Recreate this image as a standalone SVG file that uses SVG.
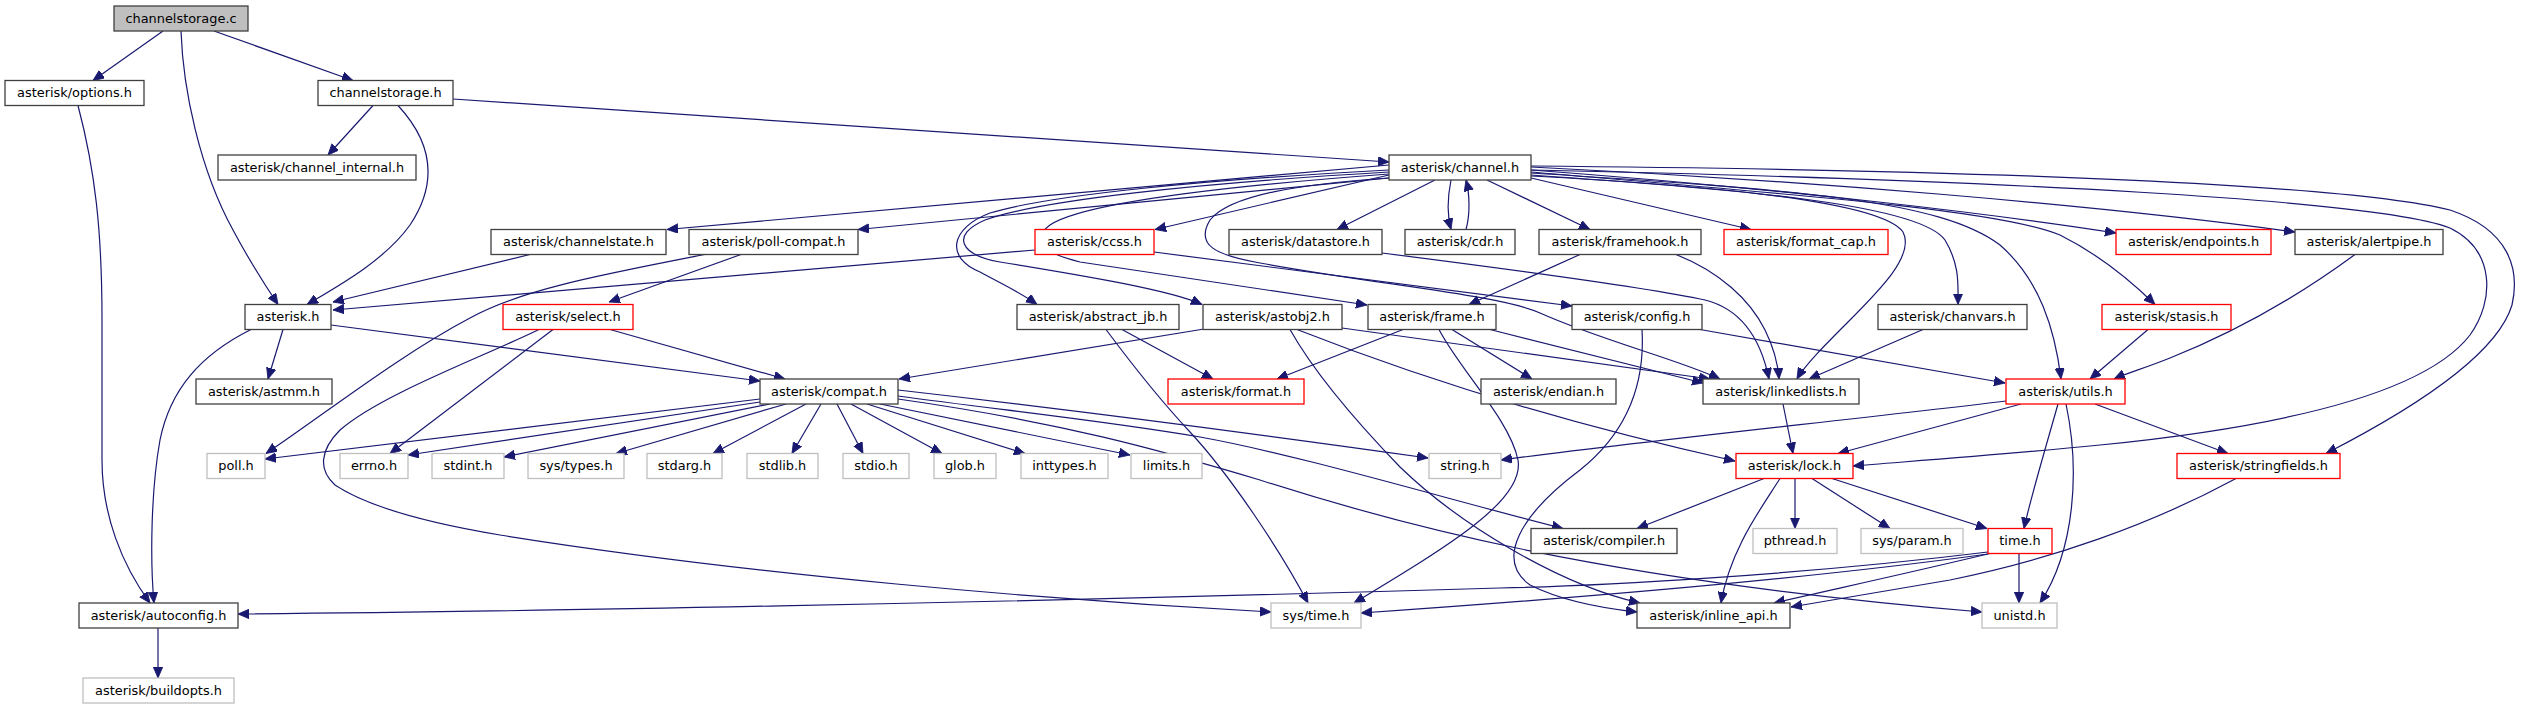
<svg xmlns="http://www.w3.org/2000/svg" width="2521" height="709" viewBox="0 0 2521 709">
<style>
.n rect{fill:#ffffff;stroke:#404040;stroke-width:1.3}
.n.m rect{fill:#bfbfbf}
.n.r rect{stroke:#ff0000}
.n.g rect{stroke:#bfbfbf}
.n text{font-family:"DejaVu Sans",sans-serif;font-size:12.9px;text-anchor:middle;fill:#000000}
#edges path{fill:none;stroke:#191970;stroke-width:1.2;marker-end:url(#a)}
</style>
<defs>
<marker id="a" markerWidth="11" markerHeight="10" refX="11" refY="4.75" orient="auto" markerUnits="userSpaceOnUse"><path d="M0,0 L11,4.75 L0,9.5 z" fill="#191970" stroke="#191970" stroke-width="0.8"/></marker>
</defs>
<rect x="0" y="0" width="2521" height="709" fill="#ffffff"/>
<g id="edges">
<path d="M163,31 L93,80.5"/>
<path d="M181,31 C183,90 200,170 233,230 C250,262 265,285 278,304.5"/>
<path d="M214,31 L353,80.5"/>
<path d="M78,105.5 C95,170 102,230 102,320 L102,460 C102,515 122,565 150,603"/>
<path d="M251,329.5 C200,355 170,390 160,440 C151,490 150,560 154,603"/>
<path d="M373,105.5 L328,155"/>
<path d="M398,105.5 C430,140 440,180 410,225 C385,260 340,285 307,304.5"/>
<path d="M453,99 L1389,162"/>
<path d="M283,329.5 L268,379"/>
<path d="M331,325 L760,381"/>
<path d="M1389,165 L667,229.5"/>
<path d="M1389,178 L858,229.5"/>
<path d="M1035,250 L333,310"/>
<path d="M530,254.5 L333,302"/>
<path d="M705,254.5 C600,275 520,290 470,318 C400,355 330,410 266,453.5"/>
<path d="M741,254.5 L609,302"/>
<path d="M610,329.5 L785,379"/>
<path d="M553,329.5 L390,453.5"/>
<path d="M539,329.5 C480,358 380,395 340,430 C320,450 318,470 335,485 C380,515 470,530 500,535 C750,575 1050,600 1271,612"/>
<path d="M760,399 L265,459"/>
<path d="M760,402 L408,455"/>
<path d="M770,404 L504,457"/>
<path d="M786,404 L616,453.5"/>
<path d="M806,404 L713,453.5"/>
<path d="M821,404 L792,453.5"/>
<path d="M837,404 L863,453.5"/>
<path d="M851,404 L942,453.5"/>
<path d="M867,404 L1025,453.5"/>
<path d="M880,404 L1130,455"/>
<path d="M898,390 C1100,413 1300,440 1428,458"/>
<path d="M898,396 C1000,410 1100,420 1200,437 C1300,455 1450,500 1563,528.5"/>
<path d="M898,399 C1060,422 1160,450 1260,480 C1400,525 1600,580 1982,612"/>
<path d="M1389,175 L1155,229.5"/>
<path d="M1435,180 L1337,229.5"/>
<path d="M1451,180 C1447,200 1447,215 1451,229.5"/>
<path d="M1466,229.5 C1470,215 1470,195 1466,180"/>
<path d="M1487,180 L1590,229.5"/>
<path d="M1531,178 L1751,229.5"/>
<path d="M1531,170 C1800,190 2000,215 2116,233"/>
<path d="M1531,167 C1800,180 2100,205 2295,232"/>
<path d="M1531,172 C1800,195 2000,210 2060,235 C2100,255 2130,280 2155,304.5"/>
<path d="M1531,173 C1800,190 1940,200 2000,245 C2040,280 2055,330 2061,379"/>
<path d="M1531,175 C1750,190 1920,205 1945,240 C1960,265 1958,285 1958,304.5"/>
<path d="M1531,176 C1700,185 1880,200 1903,232 C1915,255 1880,290 1848,322 C1825,345 1805,365 1797,379"/>
<path d="M1531,170 C2000,180 2380,200 2450,228 C2495,250 2495,300 2470,335 C2420,400 2250,430 2100,445 C2000,455 1900,462 1853,466"/>
<path d="M1531,166 C2000,170 2350,185 2450,210 C2510,230 2520,270 2512,305 C2500,345 2440,395 2326,453.5"/>
<path d="M1389,178 C1300,184 1230,195 1210,220 C1195,245 1215,255 1260,263 C1380,285 1500,295 1540,313 C1600,340 1680,360 1720,379"/>
<path d="M1389,170 C1200,180 1050,195 990,213 C950,228 945,258 980,272 C1000,283 1020,292 1037,304.5"/>
<path d="M1389,172 C1200,183 1040,200 985,220 C950,235 960,255 1000,262 C1080,275 1170,290 1202,304.5"/>
<path d="M1389,174 C1200,188 1080,205 1050,225 C1030,240 1040,252 1080,262 C1200,280 1300,295 1367,305"/>
<path d="M1154,252 L1572,306"/>
<path d="M1382,253 C1500,268 1650,288 1705,300 C1745,310 1762,345 1769,379"/>
<path d="M1580,254.5 L1469,304.5"/>
<path d="M1676,254.5 C1720,272 1750,300 1765,330 C1775,350 1778,365 1779,379"/>
<path d="M1122,329.5 L1213,379"/>
<path d="M1106,329.5 C1125,355 1160,400 1190,432 C1230,475 1280,550 1308,603"/>
<path d="M1204,329 L899,379"/>
<path d="M1342,328 L1710,379"/>
<path d="M1297,329.5 C1400,370 1550,420 1735,461"/>
<path d="M1290,329.5 C1310,365 1345,410 1400,467 C1460,525 1560,585 1640,603"/>
<path d="M1642,329.5 C1645,380 1630,430 1580,470 C1520,515 1495,560 1530,585 C1560,600 1600,608 1637,612"/>
<path d="M1700,329.5 L2005,383"/>
<path d="M1403,329.5 L1277,379"/>
<path d="M1452,329.5 L1532,379"/>
<path d="M1490,329.5 L1703,383"/>
<path d="M1439,329.5 C1460,370 1510,420 1518,460 C1525,500 1450,545 1354,603"/>
<path d="M1923,329.5 L1809,379"/>
<path d="M2148,329.5 L2090,379"/>
<path d="M2355,254.5 C2300,295 2240,330 2170,358 C2145,368 2125,374 2114,379"/>
<path d="M2006,401 C1850,420 1650,440 1501,460"/>
<path d="M2021,404 L1838,453.5"/>
<path d="M2058,404 C2045,450 2030,500 2024,528.5"/>
<path d="M2066,404 C2080,470 2075,550 2040,603"/>
<path d="M2095,404 L2228,453.5"/>
<path d="M1783,404 L1793,453.5"/>
<path d="M1764,478.5 L1637,528.5"/>
<path d="M1780,478.5 C1760,510 1730,550 1721,603"/>
<path d="M1795,478.5 L1795,528.5"/>
<path d="M1812,478.5 L1890,528.5"/>
<path d="M1832,478.5 L1987,528.5"/>
<path d="M1988,552 C1800,575 1600,586 1500,588 C1000,603 500,612 238,614"/>
<path d="M1988,554 C1800,580 1550,600 1361,613"/>
<path d="M1990,553.5 C1900,575 1830,590 1774,603"/>
<path d="M2019,553.5 L2019,603"/>
<path d="M2236,478.5 C2150,525 2050,560 1950,580 C1880,592 1830,600 1791,607"/>
<path d="M158,628 L158,678"/>
</g>
<g id="n1" class="n m"><rect x="114" y="6" width="134" height="25"/><text x="181" y="22.8">channelstorage.c</text></g>
<g id="n2" class="n"><rect x="5" y="80.5" width="139" height="25"/><text x="74.5" y="97.3">asterisk/options.h</text></g>
<g id="n3" class="n"><rect x="318" y="80.5" width="135" height="25"/><text x="385.5" y="97.3">channelstorage.h</text></g>
<g id="n4" class="n"><rect x="218" y="155" width="198" height="25"/><text x="317" y="171.8">asterisk/channel_internal.h</text></g>
<g id="n5" class="n"><rect x="1389" y="155" width="142" height="25"/><text x="1460" y="171.8">asterisk/channel.h</text></g>
<g id="n6" class="n"><rect x="491" y="229.5" width="175" height="25"/><text x="578.5" y="246.3">asterisk/channelstate.h</text></g>
<g id="n7" class="n"><rect x="689" y="229.5" width="169" height="25"/><text x="773.5" y="246.3">asterisk/poll-compat.h</text></g>
<g id="n8" class="n r"><rect x="1035" y="229.5" width="119" height="25"/><text x="1094.5" y="246.3">asterisk/ccss.h</text></g>
<g id="n9" class="n"><rect x="1229" y="229.5" width="153" height="25"/><text x="1305.5" y="246.3">asterisk/datastore.h</text></g>
<g id="n10" class="n"><rect x="1405" y="229.5" width="110" height="25"/><text x="1460" y="246.3">asterisk/cdr.h</text></g>
<g id="n11" class="n"><rect x="1539" y="229.5" width="162" height="25"/><text x="1620" y="246.3">asterisk/framehook.h</text></g>
<g id="n12" class="n r"><rect x="1724" y="229.5" width="164" height="25"/><text x="1806" y="246.3">asterisk/format_cap.h</text></g>
<g id="n13" class="n r"><rect x="2116" y="229.5" width="155" height="25"/><text x="2193.5" y="246.3">asterisk/endpoints.h</text></g>
<g id="n14" class="n"><rect x="2295" y="229.5" width="148" height="25"/><text x="2369" y="246.3">asterisk/alertpipe.h</text></g>
<g id="n15" class="n"><rect x="245" y="304.5" width="86" height="25"/><text x="288" y="321.3">asterisk.h</text></g>
<g id="n16" class="n r"><rect x="503" y="304.5" width="130" height="25"/><text x="568" y="321.3">asterisk/select.h</text></g>
<g id="n17" class="n"><rect x="1017" y="304.5" width="162" height="25"/><text x="1098" y="321.3">asterisk/abstract_jb.h</text></g>
<g id="n18" class="n"><rect x="1203" y="304.5" width="139" height="25"/><text x="1272.5" y="321.3">asterisk/astobj2.h</text></g>
<g id="n19" class="n"><rect x="1368" y="304.5" width="128" height="25"/><text x="1432" y="321.3">asterisk/frame.h</text></g>
<g id="n20" class="n"><rect x="1572" y="304.5" width="130" height="25"/><text x="1637" y="321.3">asterisk/config.h</text></g>
<g id="n21" class="n"><rect x="1878" y="304.5" width="149" height="25"/><text x="1952.5" y="321.3">asterisk/chanvars.h</text></g>
<g id="n22" class="n r"><rect x="2102" y="304.5" width="129" height="25"/><text x="2166.5" y="321.3">asterisk/stasis.h</text></g>
<g id="n23" class="n"><rect x="196" y="379" width="136" height="25"/><text x="264" y="395.8">asterisk/astmm.h</text></g>
<g id="n24" class="n"><rect x="760" y="379" width="138" height="25"/><text x="829" y="395.8">asterisk/compat.h</text></g>
<g id="n25" class="n r"><rect x="1168" y="379" width="136" height="25"/><text x="1236" y="395.8">asterisk/format.h</text></g>
<g id="n26" class="n"><rect x="1481" y="379" width="135" height="25"/><text x="1548.5" y="395.8">asterisk/endian.h</text></g>
<g id="n27" class="n"><rect x="1703" y="379" width="156" height="25"/><text x="1781" y="395.8">asterisk/linkedlists.h</text></g>
<g id="n28" class="n r"><rect x="2006" y="379" width="119" height="25"/><text x="2065.5" y="395.8">asterisk/utils.h</text></g>
<g id="n29" class="n g"><rect x="207" y="453.5" width="58" height="25"/><text x="236" y="470.3">poll.h</text></g>
<g id="n30" class="n g"><rect x="340" y="453.5" width="68" height="25"/><text x="374" y="470.3">errno.h</text></g>
<g id="n31" class="n g"><rect x="432" y="453.5" width="72" height="25"/><text x="468" y="470.3">stdint.h</text></g>
<g id="n32" class="n g"><rect x="528" y="453.5" width="96" height="25"/><text x="576" y="470.3">sys/types.h</text></g>
<g id="n33" class="n g"><rect x="647" y="453.5" width="75" height="25"/><text x="684.5" y="470.3">stdarg.h</text></g>
<g id="n34" class="n g"><rect x="747" y="453.5" width="71" height="25"/><text x="782.5" y="470.3">stdlib.h</text></g>
<g id="n35" class="n g"><rect x="843" y="453.5" width="66" height="25"/><text x="876" y="470.3">stdio.h</text></g>
<g id="n36" class="n g"><rect x="934" y="453.5" width="62" height="25"/><text x="965" y="470.3">glob.h</text></g>
<g id="n37" class="n g"><rect x="1021" y="453.5" width="87" height="25"/><text x="1064.5" y="470.3">inttypes.h</text></g>
<g id="n38" class="n g"><rect x="1131" y="453.5" width="71" height="25"/><text x="1166.5" y="470.3">limits.h</text></g>
<g id="n39" class="n g"><rect x="1429" y="453.5" width="72" height="25"/><text x="1465" y="470.3">string.h</text></g>
<g id="n40" class="n r"><rect x="1736" y="453.5" width="117" height="25"/><text x="1794.5" y="470.3">asterisk/lock.h</text></g>
<g id="n41" class="n r"><rect x="2177" y="453.5" width="163" height="25"/><text x="2258.5" y="470.3">asterisk/stringfields.h</text></g>
<g id="n42" class="n"><rect x="1531" y="528.5" width="146" height="25"/><text x="1604" y="545.3">asterisk/compiler.h</text></g>
<g id="n43" class="n g"><rect x="1753" y="528.5" width="84" height="25"/><text x="1795" y="545.3">pthread.h</text></g>
<g id="n44" class="n g"><rect x="1861" y="528.5" width="102" height="25"/><text x="1912" y="545.3">sys/param.h</text></g>
<g id="n45" class="n r"><rect x="1988" y="528.5" width="64" height="25"/><text x="2020" y="545.3">time.h</text></g>
<g id="n46" class="n"><rect x="79" y="603" width="159" height="25"/><text x="158.5" y="619.8">asterisk/autoconfig.h</text></g>
<g id="n47" class="n g"><rect x="1271" y="603" width="90" height="25"/><text x="1316" y="619.8">sys/time.h</text></g>
<g id="n48" class="n"><rect x="1637" y="603" width="153" height="25"/><text x="1713.5" y="619.8">asterisk/inline_api.h</text></g>
<g id="n49" class="n g"><rect x="1982" y="603" width="75" height="25"/><text x="2019.5" y="619.8">unistd.h</text></g>
<g id="n50" class="n g"><rect x="83" y="678" width="151" height="25"/><text x="158.5" y="694.8">asterisk/buildopts.h</text></g>
</svg>
